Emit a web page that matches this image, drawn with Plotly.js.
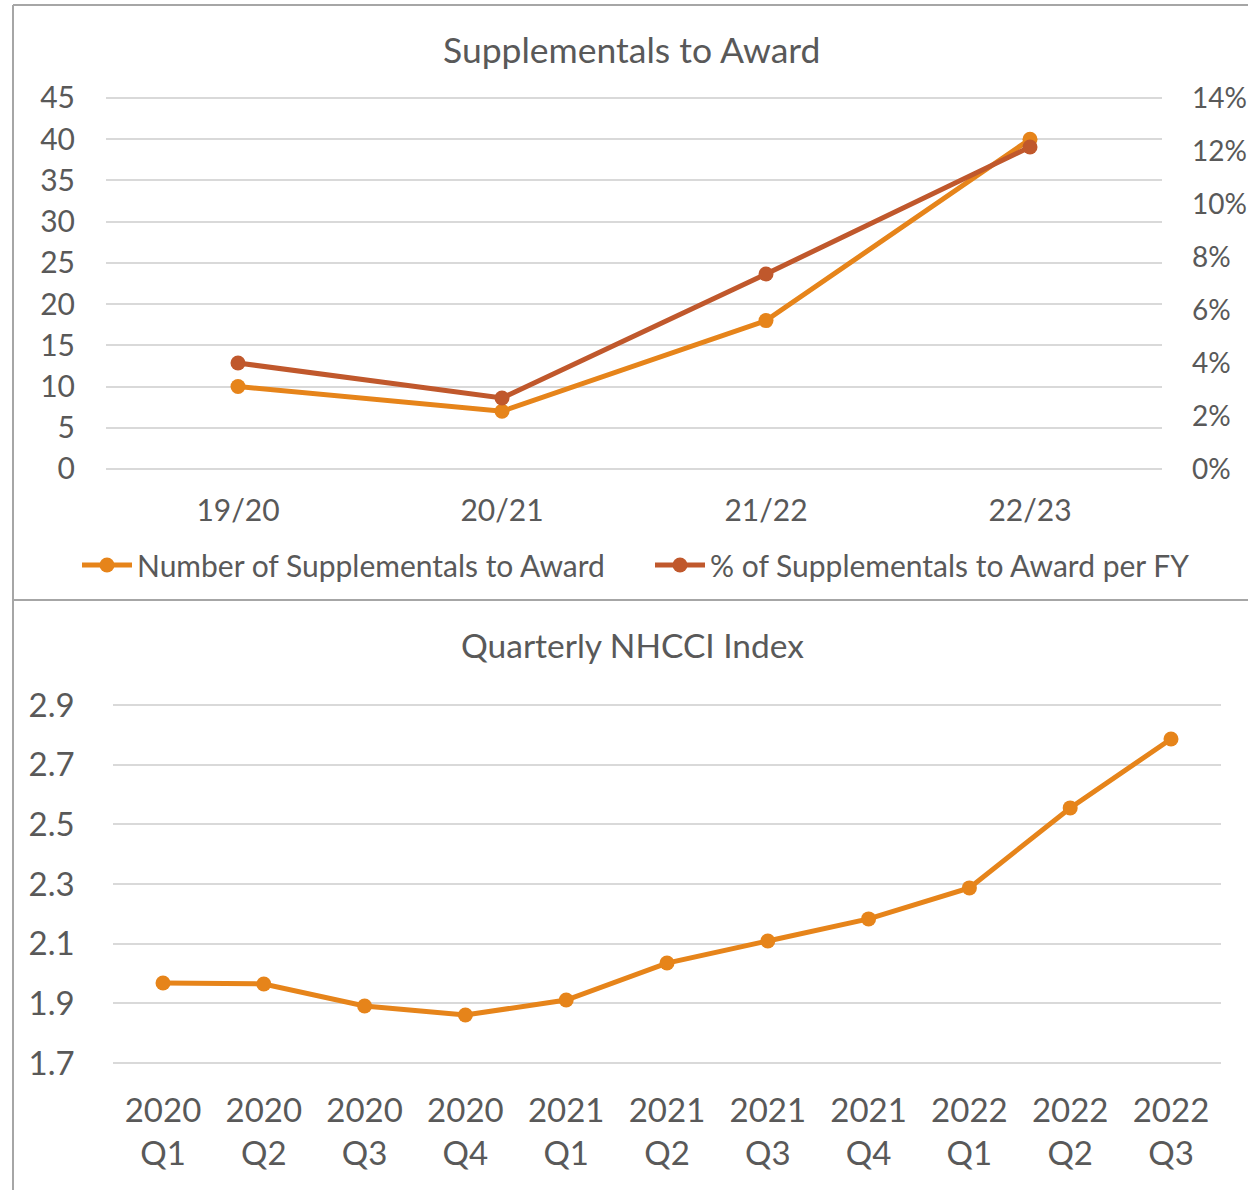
<!DOCTYPE html>
<html>
<head>
<meta charset="utf-8">
<script src="https://cdn.plot.ly/plotly-3.0.1.min.js"></script>
<style>
html,body{margin:0;padding:0;background:#fff;}
#chart{width:1248px;height:1190px;}
</style>
</head>
<body>
<div id="chart"></div>
<script>
// ---- Data: Supplementals to Award ----
const fiscalYears = ["19/20", "20/21", "21/22", "22/23"];
const supplementalCounts = [10, 7, 18, 40];
const supplementalPct = [0.040, 0.0268, 0.0736, 0.1215];

// ---- Data: Quarterly NHCCI Index ----
const quarterLabels = ["2020<br>Q1", "2020<br>Q2", "2020<br>Q3", "2020<br>Q4",
  "2021<br>Q1", "2021<br>Q2", "2021<br>Q3", "2021<br>Q4",
  "2022<br>Q1", "2022<br>Q2", "2022<br>Q3"];
const nhcciValues = [1.968, 1.965, 1.891, 1.861, 1.911, 2.035, 2.109, 2.183, 2.287, 2.555, 2.786];

const W = 1248, H = 1190;
const px = v => v / W;
const py = v => 1 - v / H;

const ORANGE = "#E6841A";
const RUST = "#C0582C";
const TEXT = "#595959";
const GRID = "#D9D9D9";
const FONT = "Lato, 'Noto Sans', sans-serif";

// small padding so the edge gridlines (0/45 and 1.7/2.9) are drawn
const padTop = 0.3;          // units of left axis
const pxPerUnitTop = 371 / 45;
const padPct = padTop * 0.14 / 45;
const padBot = 0.01;
const pxPerUnitBot = 358 / 1.2;

const traces = [
  {
    x: fiscalYears, y: supplementalCounts, type: "scatter", mode: "lines+markers",
    name: "Number of Supplementals to Award",
    line: {color: ORANGE, width: 5}, marker: {color: ORANGE, size: 15},
    xaxis: "x", yaxis: "y"
  },
  {
    x: fiscalYears, y: supplementalPct, type: "scatter", mode: "lines+markers",
    name: "% of Supplementals to Award per FY",
    line: {color: RUST, width: 5}, marker: {color: RUST, size: 15},
    xaxis: "x", yaxis: "y2"
  },
  {
    x: quarterLabels, y: nhcciValues, type: "scatter", mode: "lines+markers",
    name: "Quarterly NHCCI Index", showlegend: false,
    line: {color: ORANGE, width: 5}, marker: {color: ORANGE, size: 15},
    xaxis: "x3", yaxis: "y3"
  }
];

const layout = {
  width: W, height: H,
  margin: {l: 0, r: 0, t: 0, b: 0},
  paper_bgcolor: "#fff", plot_bgcolor: "#fff",
  font: {family: FONT, color: TEXT, size: 30},
  showlegend: true,
  legend: {
    orientation: "h", x: px(650), xanchor: "center", y: py(565), yanchor: "middle",
    font: {family: FONT, color: TEXT, size: 30}, itemwidth: 50, tracegroupgap: 0,
    entrywidth: 508,
    bgcolor: "rgba(0,0,0,0)"
  },
  xaxis: {
    domain: [px(106), px(1162)], anchor: "y", range: [-0.5, 3.5],
    showgrid: false, showline: false, zeroline: false, ticks: "",
    tickfont: {family: FONT, color: TEXT, size: 30}, ticklabelstandoff: 19
  },
  yaxis: {
    domain: [py(469 + padTop * pxPerUnitTop), py(98 - padTop * pxPerUnitTop)], anchor: "x",
    range: [-padTop, 45 + padTop], dtick: 5, tick0: 0,
    showgrid: true, gridcolor: GRID, gridwidth: 2, zeroline: false, showline: false,
    tickfont: {family: FONT, color: TEXT, size: 30}, ticklabelstandoff: 30
  },
  yaxis2: {
    overlaying: "y", side: "right", anchor: "x", range: [-padPct, 0.14 + padPct], dtick: 0.02, tick0: 0,
    tickformat: ".0%", showgrid: false, zeroline: false, showline: false,
    tickfont: {family: FONT, color: TEXT, size: 28}, ticklabelstandoff: 29
  },
  xaxis3: {
    domain: [px(112.6), px(1221.4)], anchor: "y3", range: [-0.5, 10.5],
    showgrid: false, showline: false, zeroline: false, ticks: "", tickangle: 0,
    tickfont: {family: FONT, color: TEXT, size: 33}, ticklabelstandoff: 22
  },
  yaxis3: {
    domain: [py(1063 + padBot * pxPerUnitBot), py(705 - padBot * pxPerUnitBot)], anchor: "x3",
    range: [1.7 - padBot, 2.9 + padBot], dtick: 0.2, tick0: 1.7,
    tickformat: ".1f",
    showgrid: true, gridcolor: GRID, gridwidth: 2, zeroline: false, showline: false,
    tickfont: {family: FONT, color: TEXT, size: 33}, ticklabelstandoff: 37
  },
  annotations: [
    {text: "Supplementals to Award", xref: "paper", yref: "paper", x: px(631), y: py(50),
     xanchor: "center", yanchor: "middle", showarrow: false,
     font: {family: FONT, color: TEXT, size: 35.5}},
    {text: "Quarterly NHCCI Index", xref: "paper", yref: "paper", x: px(632), y: py(645),
     xanchor: "center", yanchor: "middle", showarrow: false,
     font: {family: FONT, color: TEXT, size: 33.5}}
  ],
  shapes: [
    {type: "line", xref: "paper", yref: "paper", x0: px(13), x1: px(13), y0: 0, y1: py(5),
     line: {color: "#A6A6A6", width: 2}},
    {type: "line", xref: "paper", yref: "paper", x0: px(13), x1: 1, y0: py(5), y1: py(5),
     line: {color: "#A6A6A6", width: 2}},
    {type: "line", xref: "paper", yref: "paper", x0: px(13), x1: 1, y0: py(600), y1: py(600),
     line: {color: "#A6A6A6", width: 2}}
  ]
};

Plotly.newPlot("chart", traces, layout, {displayModeBar: false, staticPlot: true});
</script>
</body>
</html>
